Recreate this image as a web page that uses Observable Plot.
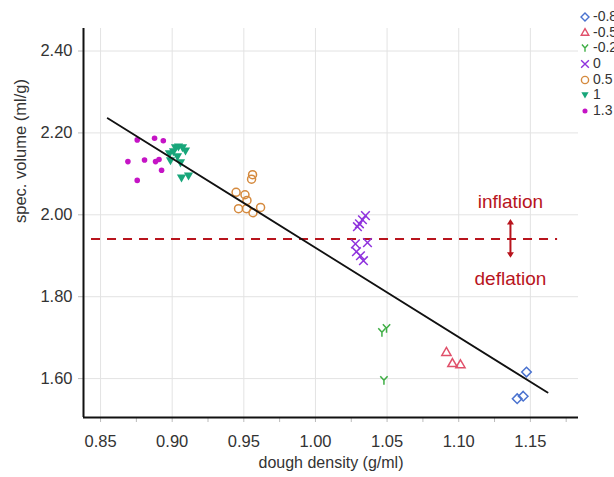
<!DOCTYPE html>
<html><head><meta charset="utf-8">
<script src="https://cdn.jsdelivr.net/npm/d3@7"></script>
<script src="https://cdn.jsdelivr.net/npm/@observablehq/plot@0.6"></script>
<style>
body{margin:0;background:#fff;overflow:hidden;width:614px;height:477px;position:relative;font-family:"Liberation Sans",Arial,sans-serif}
#chart{position:absolute;left:0;top:0}
#legend{position:absolute;left:579px;top:9px;font-size:14px;color:#333;line-height:15.7px}
.row{display:flex;align-items:center;height:15.7px;white-space:nowrap}
.row svg{flex:none;margin-right:2px}
</style></head><body><div id="chart"></div><div id="legend"></div>
<script>
// ---- data ----
const seriesNames = ["-0.8","-0.5","-0.2","0","0.5","1","1.3"];
const densM08 = [1.1473, 1.1408, 1.1450];
const volM08  = [1.616, 1.551, 1.557];
const densM05 = [1.0914, 1.0956, 1.1012];
const volM05  = [1.663, 1.636, 1.633];
const densM02 = [1.0464, 1.0496, 1.0478];
const volM02  = [1.713, 1.723, 1.596];
const dens0 = [1.0349, 1.0328, 1.0307, 1.0293, 1.0279, 1.0363, 1.0286, 1.0314, 1.0335];
const vol0  = [1.998, 1.988, 1.978, 1.971, 1.929, 1.932, 1.910, 1.900, 1.888];
const dens05 = [0.9561, 0.9554, 0.9446, 0.9508, 0.9522, 0.9463, 0.9519, 0.9564, 0.9617];
const vol05  = [2.098, 2.087, 2.055, 2.049, 2.035, 2.015, 2.015, 2.005, 2.018];
const dens1 = [0.8981, 0.8988, 0.9023, 0.9044, 0.9072, 0.9093, 0.9037, 0.9058, 0.9065, 0.9114, 0.9009];
const vol1  = [2.149, 2.132, 2.164, 2.166, 2.164, 2.156, 2.142, 2.127, 2.090, 2.095, 2.154];
const dens13 = [0.8756, 0.8877, 0.8938, 0.8691, 0.8807, 0.8884, 0.8908, 0.8926, 0.8756];
const vol13  = [2.183, 2.187, 2.181, 2.130, 2.134, 2.130, 2.135, 2.109, 2.084];
const fitX = [0.855, 1.162];
const fitY = [2.236, 1.566];
const thresholdY = 1.941;
const thresholdX = [0.8437, 1.169];
const xTicks = [0.85, 0.90, 0.95, 1.00, 1.05, 1.10, 1.15];
const xMinor = [0.875, 0.925, 0.975, 1.025, 1.075, 1.125, 1.175];
const yTicks = [1.60, 1.80, 2.00, 2.20, 2.40];
const xDomain = [0.8381, 1.1836];
const yDomain = [1.505, 2.455];
const noteX = 1.1361;
const noteLabels = ["inflation", "deflation"];
const noteY = [2.032, 1.8435];
const arrowY = [1.985, 1.900];

// ---- symbols ----
const wye = {draw(c, s){const r = Math.sqrt(s/Math.PI); c.moveTo(0,0); c.lineTo(-r*0.85,-r*0.95); c.moveTo(0,0); c.lineTo(r*0.85,-r*0.95); c.moveTo(0,0); c.lineTo(0,r*1.05);}};
const triDown = {draw(c, s){const r = Math.sqrt(s/Math.PI); c.moveTo(-r,-r*0.75); c.lineTo(r,-r*0.75); c.lineTo(0,r*1.0); c.closePath();}};
const headUp = {draw(c, s){const r = Math.sqrt(s/Math.PI); c.moveTo(0,0); c.lineTo(r,r*1.6); c.lineTo(-r,r*1.6); c.closePath();}};
const headDown = {draw(c, s){const r = Math.sqrt(s/Math.PI); c.moveTo(0,0); c.lineTo(r,-r*1.6); c.lineTo(-r,-r*1.6); c.closePath();}};

const styles = [
  {name: seriesNames[0], x: densM08, y: volM08, symbol: "diamond2", color: "#4a72cf", filled: false, r: 4.3},
  {name: seriesNames[1], x: densM05, y: volM05, symbol: "triangle2", color: "#e0506a", filled: false, r: 4.4},
  {name: seriesNames[2], x: densM02, y: volM02, symbol: wye, color: "#3fae45", filled: false, r: 4.3},
  {name: seriesNames[3], x: dens0, y: vol0, symbol: "times", color: "#8f33dd", filled: false, r: 4.0},
  {name: seriesNames[4], x: dens05, y: vol05, symbol: "circle", color: "#d58a3e", filled: false, r: 4.0},
  {name: seriesNames[5], x: dens1, y: vol1, symbol: triDown, color: "#18a67a", filled: true, r: 4.6},
  {name: seriesNames[6], x: dens13, y: vol13, symbol: "circle", color: "#c514c5", filled: true, r: 2.8}
];

const red = "#b8141d";
const dotMarks = styles.map(s => Plot.dot(s.x.map((v,i)=>({x:v, y:s.y[i]})), {
  x: "x", y: "y", symbol: s.symbol, r: s.r,
  fill: s.filled ? s.color : "none", stroke: s.filled ? "none" : s.color, strokeWidth: 1.5
}));

const plot = Plot.plot({
  width: 614, height: 477,
  marginLeft: 83, marginRight: 36, marginTop: 28, marginBottom: 60,
  style: {fontFamily: '"Liberation Sans", Arial, sans-serif', fontSize: "16.5px", color: "#333", background: "white"},
  x: {domain: xDomain, label: null},
  y: {domain: yDomain, label: null},
  marks: [
    Plot.gridX(xTicks, {stroke: "#e3e3e3", strokeOpacity: 1, strokeWidth: 1}),
    Plot.gridY(yTicks, {stroke: "#e3e3e3", strokeOpacity: 1, strokeWidth: 1}),
    Plot.axisX(xMinor, {tickSize: 5, text: null, stroke: "#bbb", label: null}),
    Plot.axisX(xTicks, {tickSize: 5, tickPadding: 13, tickFormat: d => d.toFixed(2), stroke: "#bbb", fill: "#333", label: null}),
    Plot.axisY(yTicks, {tickSize: 5, tickPadding: 6, tickFormat: d => d.toFixed(2), stroke: "#bbb", fill: "#333", label: null}),
    Plot.ruleY([thresholdY], {x1: thresholdX[0], x2: thresholdX[1], stroke: red, strokeWidth: 2, strokeDasharray: "9,7"}),
    Plot.link([0], {x1: noteX, x2: noteX, y1: arrowY[0], y2: arrowY[1], stroke: red, strokeWidth: 2}),
    Plot.dot([arrowY[0]], {x: noteX, y: d => d, symbol: headUp, r: 3.5, fill: red, dy: -2}),
    Plot.dot([arrowY[1]], {x: noteX, y: d => d, symbol: headDown, r: 3.5, fill: red, dy: 2}),
    Plot.text(noteLabels, {x: noteX, y: (d,i) => noteY[i], text: d => d, fill: red, fontSize: 19}),
    ...dotMarks,
    Plot.line(fitX.map((v,i)=>({x:v, y:fitY[i]})), {x: "x", y: "y", stroke: "#111", strokeWidth: 1.8}),
    Plot.ruleX([xDomain[0]], {stroke: "#111", strokeWidth: 2}),
    Plot.ruleY([yDomain[0]], {stroke: "#111", strokeWidth: 2}),
    Plot.text(["dough density (g/ml)"], {frameAnchor: "bottom", dy: 50, text: d => d, fill: "#333", fontSize: 16}),
    Plot.text(["spec. volume (ml/g)"], {frameAnchor: "left", dx: -63, rotate: -90, text: d => d, fill: "#333", fontSize: 16.5})
  ]
});
document.getElementById("chart").appendChild(plot);

// ---- legend ----
const leg = d3.select("#legend");
styles.forEach(s => {
  const row = leg.append("div").attr("class", "row");
  const svg = row.append("svg").attr("width", 12).attr("height", 12);
  const type = typeof s.symbol === "string" ? Plot.scale({symbol:{domain:["a"], range:[s.symbol]}}).range[0] : s.symbol;
  svg.append("path").attr("transform", "translate(6,6)")
    .attr("d", d3.symbol(type, Math.PI * Math.pow(Math.min(s.r, 4) * 0.9, 2))())
    .attr("fill", s.filled ? s.color : "none")
    .attr("stroke", s.filled ? "none" : s.color)
    .attr("stroke-width", 1.4);
  row.append("span").text(s.name);
});
</script>
</body></html>
